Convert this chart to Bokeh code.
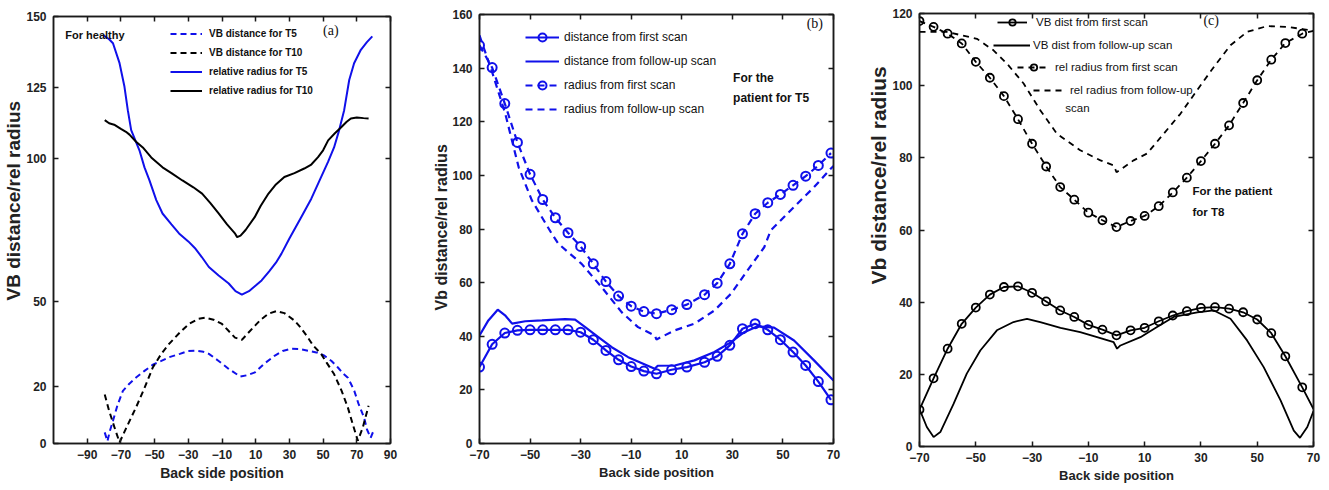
from bokeh.plotting import figure
from bokeh.layouts import row, column
from bokeh.models import (Legend, LegendItem, FixedTicker, LinearAxis, Label,
                          Range1d, Title)
from bokeh.embed import file_html
from bokeh.resources import INLINE

SANS = "Liberation Sans"
SERIF = "Liberation Serif"
BLUE = "#1010ea"
BLACK = "#000000"
INK = "#1a1a1a"

# ---------------- (a) healthy subject ----------------
a_xticks = [-90, -70, -50, -30, -10, 10, 30, 50, 70, 90]
a_yticks = [0, 20, 50, 100, 125, 150]

a_rad_t5_x = [-80.6, -77, -74.7, -70.8, -67.9, -65.9, -63.9, -59, -56, -53.1, -49, -45.3,
              -40, -35.5, -30, -25.7, -22, -17.8, -12, -6, -2, 1.8, 6, 10, 13.5, 18, 22,
              25.3, 30, 37, 43, 48.8, 53, 56.5, 59.5, 62.5, 65.5, 68.4, 72.4, 76, 79.2]
a_rad_t5_y = [143.5, 142, 140.6, 133.6, 125.4, 117.1, 110.1, 103, 97, 92.5, 85.5, 80.8,
              77, 73.8, 71, 68.4, 65.5, 62, 59, 56.2, 53.5, 52.3, 53.5, 55.5, 57.3, 60.5,
              63.5, 66.7, 72, 79.5, 86, 93.6, 99, 104, 110, 117.1, 127.7, 133.6, 138.3,
              141, 143]

a_rad_t10_x = [-79.6, -77, -74, -70, -67, -64.9, -61, -57, -52, -45.3, -40, -33.5, -27,
               -21.8, -17, -12, -7, -2.2, -1, 1, 4, 9.4, 13, 17.6, 22, 27, 33, 38.8, 43,
               47, 50, 53, 57, 60.6, 64, 66.5, 70, 74, 77]
a_rad_t10_y = [113.6, 112.5, 112, 110.5, 109.5, 108.5, 106, 104, 100.5, 97, 95, 92.4, 90,
               87.8, 84.5, 80.8, 77, 73.7, 72.5, 73, 75, 79.5, 83.5, 87.8, 91, 93.6, 95,
               96.6, 98, 100.6, 103, 106.5, 109, 111, 113, 114.2, 114.5, 114.3, 114.2]

a_dist_t10_x = [-79.6, -77, -74, -70.8, -66, -61, -56, -51, -46, -41.4, -35, -29.6, -24,
                -19.8, -15, -10, -6, -2.3, 1.8, 5, 9.6, 13, 17.6, 22.4, 27, 33, 37, 41,
                44, 48.8, 52, 56.5, 61, 64.7, 68, 70.6, 73.5, 77]
a_dist_t10_y = [17.2, 11.5, 6, 0.4, 6.5, 12.7, 19.5, 26.8, 31.5, 35, 39, 42, 43.8, 44.2,
                43.5, 42, 39.5, 37.2, 36.4, 38.5, 41.4, 43.5, 45.6, 46.5, 45.8, 43.2, 40.5,
                37.2, 34.5, 31.5, 28.5, 24.4, 18.5, 12.6, 6, 1, 5.5, 13.3]

a_dist_t5_x = [-79.6, -78, -76.5, -74.7, -72, -68.8, -65, -61, -56, -51, -46, -41.4, -35,
               -30, -25.7, -21, -17.8, -12, -6, 0.8, 5, 9.6, 15, 21.4, 26, 31.2, 36, 41,
               46, 50.6, 55, 58.8, 62, 64.7, 66.5, 68.5, 71, 74.4, 76, 78.2, 79.6]
a_dist_t5_y = [3.9, 0.8, 4.5, 8, 13.5, 18.5, 21, 23.2, 25.5, 27.7, 29, 30.3, 31.5, 32.5,
               32.6, 32.2, 31.5, 29, 26.2, 23.5, 24, 25, 28, 30.9, 32.5, 33.3, 33.2, 32.6,
               32, 30.9, 29, 26.7, 24.5, 23.1, 21, 18.5, 14, 9, 5, 2, 4]

# ---------------- (b) patient, T5 ----------------
b_xticks = [-70, -50, -30, -10, 10, 30, 50, 70]
b_yticks = [0, 20, 40, 60, 80, 100, 120, 140, 160]

b_mark_x = [-70, -65, -60, -55, -50, -45, -40, -35, -30, -25, -20, -15, -10, -5, 0, 6, 12,
            19, 24, 29, 34, 39, 44, 49, 54, 59, 64, 69]
b_rad_first = [148.5, 140.2, 126.8, 112.3, 100.4, 91, 84.2, 78.6, 73.5, 67, 60.4, 55, 51.2,
               49.2, 48.4, 49.9, 51.8, 55.5, 59.8, 67, 78.2, 85.7, 89.8, 92.9, 96.3, 99.7,
               103.7, 108.3]
b_dist_first = [28.5, 37, 41.2, 42.2, 42.4, 42.4, 42.4, 42.4, 41.5, 38.7, 34.7, 31.2, 28.7,
                27, 26, 27.5, 28.5, 30.3, 32.5, 36.6, 42.8, 44.7, 42.4, 38.7, 34.1, 29.1,
                23.1, 16.3]

b_rad_follow_x = [-70, -65, -59.8, -54.5, -49.3, -41.4, -38.8, -29.6, -21.7, -13.8, -7.3,
                  -0.7, 0, 7.2, 15, 22.9, 29.5, 36, 42.6, 45.2, 54.4, 62.3, 68.9, 70]
b_rad_follow_y = [152.2, 138.5, 123, 103, 90.7, 78.2, 74.5, 67, 58.3, 49, 43.4, 40.3, 38.8,
                  42.2, 44.7, 49.6, 55.9, 64.6, 73.2, 79.5, 88.2, 95.6, 102.5, 103.5]

b_dist_follow_x = [-70, -66.5, -62.8, -59.9, -57.1, -51.9, -45.3, -36.1, -32.2, -28.2, -23,
                   -17.7, -11.2, -4.6, -0.7, 0.5, 7.2, 15, 22.9, 29.5, 34.7, 40, 46.5, 54.4,
                   62.3, 70]
b_dist_follow_y = [40.3, 45.9, 49.9, 47.8, 44.7, 45.6, 45.9, 46.4, 46.2, 43.4, 39.7, 35.9,
                   32.2, 29.5, 27.9, 29, 29.1, 31, 34.1, 37.8, 41.5, 43.7, 43.2, 38.4, 31,
                   23.5]

# ---------------- (c) patient, T8 ----------------
c_xticks = [-70, -50, -30, -10, 10, 30, 50, 70]
c_yticks = [0, 20, 40, 60, 80, 100, 120]

c_first_x = [-70, -65, -60, -55, -50, -45, -40, -35, -30, -25, -20, -15, -10, -5, 0, 5, 10,
             15, 20, 25, 30, 35, 40, 45, 50, 55, 60, 66, 70]
c_rad_first = [117.9, 116.3, 114.4, 111.7, 106.6, 102.2, 97.1, 90.7, 83.9, 77.6, 71.9, 68.4,
               64.8, 62.7, 60.8, 62.5, 63.9, 66.6, 70.4, 74.5, 79.1, 83.9, 89, 95.2, 101.5,
               107.2, 111.8, 114.4, 115.2]
c_dist_first = [10.2, 18.9, 27.1, 34, 38.5, 42.1, 44.2, 44.4, 42.6, 40.2, 37.7, 35.9, 33.7,
                32.4, 30.8, 32.2, 32.9, 34.7, 36.3, 37.5, 38.4, 38.6, 38.2, 37.2, 35.2, 31.4,
                25, 16.4, 10.4]

c_rad_follow_x = [-70, -60.3, -49.6, -43.7, -38.9, -33, -27.1, -21.2, -12.9, -5.7, -1, 0,
                  6.1, 10.9, 16.8, 22.7, 28.6, 34.6, 40.5, 46.4, 53.5, 60.6, 66, 70]
c_rad_follow_y = [114.9, 114.9, 113, 109.8, 106.1, 100.6, 93.2, 86.7, 82.1, 79.3, 77.9, 76,
                  79.3, 81.2, 86.7, 92.2, 98.7, 105.2, 111.2, 114.9, 116.5, 116.3, 115.7,
                  115.2]

c_dist_follow_x = [-70, -67.4, -65, -62.6, -57.9, -53.2, -48.4, -42.5, -36.6, -31.8, -27.1,
                   -19.9, -12.9, -6.9, -1, 0.2, 1.4, 8.5, 14.4, 20.3, 28.7, 34.6, 40.5, 46.4,
                   52.3, 58.3, 63, 65.2, 67.8, 70]
c_dist_follow_y = [10.4, 5.4, 2.6, 4, 11.8, 20.2, 26.6, 32.2, 34.5, 35.4, 34.5, 32.9, 31.7,
                   30.3, 28.9, 27.1, 28, 30.3, 33.1, 35.9, 37.2, 37.7, 35.4, 29.4, 22, 12.8,
                   4.4, 2.4, 5.4, 9.8]


def make_panel(width, xr, yr, xticks, yticks, borders, xlabel_size,
               ylabel, ylabel_size, ylabel_offset):
    left, right, top, bottom = borders
    p = figure(width=width, height=490, x_range=Range1d(*xr), y_range=Range1d(*yr),
               output_backend="svg", toolbar_location=None, title=None,
               min_border_left=left, min_border_right=right,
               min_border_top=top, min_border_bottom=bottom)
    p.xgrid.visible = False
    p.ygrid.visible = False
    p.outline_line_color = INK
    p.outline_line_width = 1.5
    p.background_fill_color = "white"
    p.border_fill_color = "white"

    p.xaxis.ticker = FixedTicker(ticks=xticks)
    p.yaxis.ticker = FixedTicker(ticks=yticks)
    for ax in (p.xaxis[0], p.yaxis[0]):
        ax.major_tick_in = 5
        ax.major_tick_out = 0
        ax.minor_tick_line_color = None
        ax.axis_line_color = INK
        ax.axis_line_width = 1.5
        ax.major_tick_line_color = INK
        ax.major_tick_line_width = 1.5
        ax.major_label_text_font = SANS
        ax.major_label_text_font_style = "bold"
        ax.major_label_text_font_size = "12px"
        ax.major_label_text_color = "#222222"
    p.xaxis.axis_label = "Back side position"
    p.xaxis.axis_label_text_font = SANS
    p.xaxis.axis_label_text_font_style = "bold"
    p.xaxis.axis_label_text_font_size = xlabel_size
    p.xaxis.axis_label_text_color = "#222222"
    p.xaxis.major_label_standoff = 6
    p.xaxis.axis_label_standoff = 3
    p.yaxis.major_label_standoff = 7

    # vertical axis title, placed outside the y tick labels
    p.add_layout(Title(text=ylabel, align="left", offset=ylabel_offset, standoff=0,
                       text_font=SANS, text_font_style="bold", text_font_size=ylabel_size,
                       text_color="#222222"), "left")

    # tick marks on the top and right edges of the box
    for side, tks in (("above", xticks), ("right", yticks)):
        ax = LinearAxis(ticker=FixedTicker(ticks=tks), major_tick_in=5, major_tick_out=0,
                        minor_tick_line_color=None, axis_line_color=INK,
                        axis_line_width=1.5, major_tick_line_color=INK,
                        major_tick_line_width=1.5, major_label_text_font_size="1px",
                        major_label_text_color=None, major_label_standoff=0)
        p.add_layout(ax, side)
    return p


def note(p, x, y, text, size, style="bold", font=SANS):
    p.add_layout(Label(x=x, y=y, text=text, text_baseline="middle", text_font=font,
                       text_font_style=style, text_font_size=size, text_color="#111111"))


def legend_box(items, x, y, glyph_w, glyph_h, spacing, standoff, size, style="normal"):
    return Legend(items=items, location=(x, y), padding=0, margin=0,
                  glyph_width=glyph_w, glyph_height=glyph_h, label_height=glyph_h,
                  spacing=spacing, label_standoff=standoff,
                  label_text_font=SANS, label_text_font_size=size,
                  label_text_font_style=style, label_text_color="#111111",
                  background_fill_alpha=0, border_line_alpha=0)


# ---------- panel (a) ----------
pa = make_panel(430, (-110, 90), (0, 150), a_xticks, a_yticks, (50, 40, 16, 47), "14px",
                "VB distance/rel radius", "19px", 143)
ra1 = pa.line(a_dist_t5_x, a_dist_t5_y, color=BLUE, line_width=2, line_dash="6 4")
ra2 = pa.line(a_dist_t10_x, a_dist_t10_y, color=BLACK, line_width=2, line_dash="6 4")
ra3 = pa.line(a_rad_t5_x, a_rad_t5_y, color=BLUE, line_width=2)
ra4 = pa.line(a_rad_t10_x, a_rad_t10_y, color=BLACK, line_width=2)
pa.add_layout(legend_box([
    LegendItem(label="VB distance for T5", renderers=[ra1]),
    LegendItem(label="VB distance for T10", renderers=[ra2]),
    LegendItem(label="relative radius for T5", renderers=[ra3]),
    LegendItem(label="relative radius for T10", renderers=[ra4]),
], 117, 345, 32, 15, 4, 7, "10px", "bold"))
note(pa, -103, 143.6, "For healthy", "11px")
note(pa, 50, 145, "(a)", "14px", "normal", SERIF)

# ---------- panel (b) ----------
pb = make_panel(423, (-70, 70), (0, 160), b_xticks, b_yticks, (47, 20, 14, 47), "13px",
                "Vb distance/rel radius", "16px", 133)
rb1l = pb.line(b_mark_x, b_dist_first, color=BLUE, line_width=2.2)
rb1m = pb.scatter(b_mark_x, b_dist_first, marker="circle", size=9, line_color=BLUE,
                  line_width=2, fill_color=None)
rb2 = pb.line(b_dist_follow_x, b_dist_follow_y, color=BLUE, line_width=2.2)
rb3l = pb.line(b_mark_x, b_rad_first, color=BLUE, line_width=2.2, line_dash="7 5")
rb3m = pb.scatter(b_mark_x, b_rad_first, marker="circle", size=9, line_color=BLUE,
                  line_width=2, fill_color=None)
rb4 = pb.line(b_rad_follow_x, b_rad_follow_y, color=BLUE, line_width=2.2, line_dash="7 5")
pb.add_layout(legend_box([
    LegendItem(label="distance from first scan", renderers=[rb1l, rb1m]),
    LegendItem(label="distance from follow-up scan", renderers=[rb2]),
    LegendItem(label="radius from first scan", renderers=[rb3l, rb3m]),
    LegendItem(label="radius from follow-up scan", renderers=[rb4]),
], 46, 324, 34, 20, 4, 5, "12px"))
note(pb, 30.3, 136.2, "For the", "12px")
note(pb, 30.3, 129.0, "patient for T5", "12px")
note(pb, 59.4, 156.7, "(b)", "14px", "normal", SERIF)

# ---------- panel (c) ----------
pc = make_panel(476, (-70, 70), (0, 120), c_xticks, c_yticks, (66, 16, 13, 44), "13px",
                "Vb distance/rel radius", "21px", 162)
rc1l = pc.line(c_first_x, c_dist_first, color=BLACK, line_width=1.8)
rc1m = pc.scatter(c_first_x[:-1], c_dist_first[:-1], marker="circle", size=8,
                  line_color=BLACK, line_width=1.8, fill_color=None)
rc2 = pc.line(c_dist_follow_x, c_dist_follow_y, color=BLACK, line_width=1.8)
rc3l = pc.line(c_first_x, c_rad_first, color=BLACK, line_width=1.8, line_dash="6 5")
rc3m = pc.scatter(c_first_x[:-1], c_rad_first[:-1], marker="circle", size=8,
                  line_color=BLACK, line_width=1.8, fill_color=None)
rc4 = pc.line(c_rad_follow_x, c_rad_follow_y, color=BLACK, line_width=1.8, line_dash="6 5")

c_entries = [
    ("VB dist from first scan", [rc1l, rc1m], 78, 416, 30, 9),
    ("VB dist from follow-up scan", [rc2], 74, 393, 37, 3),
    ("rel radius from first scan", [rc3l, rc3m], 98, 371, 33, 5),
    ("rel radius from follow-up", [rc4], 114, 348, 30, 7),
]
for text, rends, lx, ly, gw, so in c_entries:
    pc.add_layout(legend_box([LegendItem(label=text, renderers=rends)],
                             lx, ly, gw, 16, 0, so, "11.5px"))
note(pc, -18.2, 93.7, "scan", "11.5px", "normal")
note(pc, 27, 70.7, "For the patient", "11.5px")
note(pc, 27, 65.0, "for T8", "11.5px")
note(pc, 30.9, 118.1, "(c)", "14px", "normal", SERIF)

# each panel sits in its own column so the three frames keep their own margins
layout = row(column(pa), column(pb), column(pc), spacing=0)
open("out.html", "w").write(file_html(layout, INLINE))
